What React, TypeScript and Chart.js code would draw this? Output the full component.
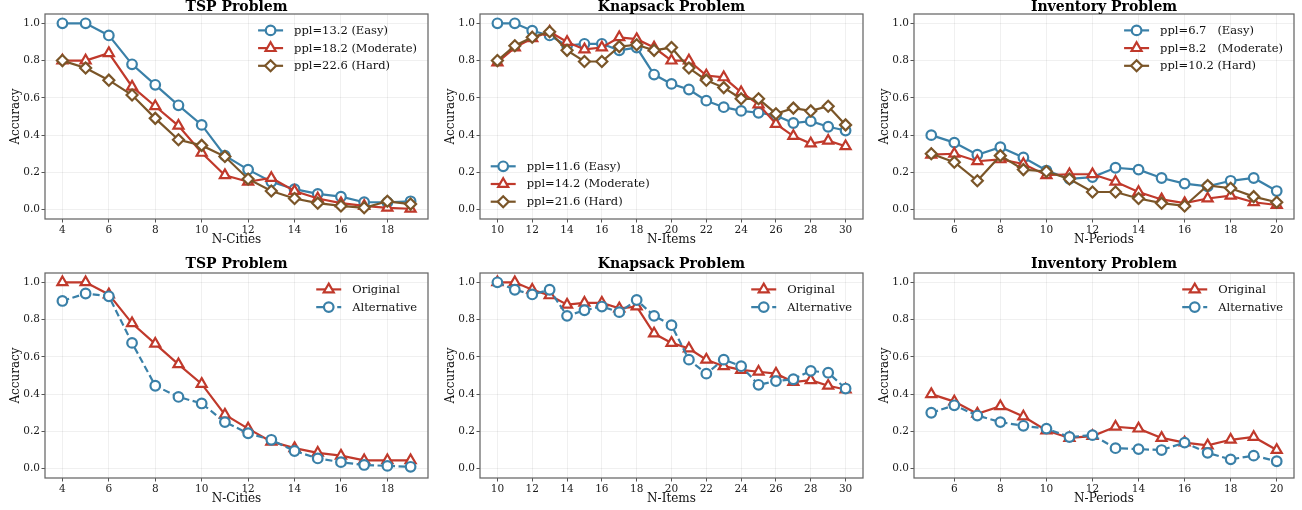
import React, { useEffect, useRef } from 'react';
import { Chart, registerables } from 'chart.js';

Chart.register(...registerables);
Chart.defaults.font.family = '"DejaVu Serif", serif';

const BLUE = '#3a80a8';
const RED = '#c0392b';
const BROWN = '#7a5528';

// ---------- data ----------
const tspCities = [4, 5, 6, 7, 8, 9, 10, 11, 12, 13, 14, 15, 16, 17, 18, 19];
const tspEasy = [1.0, 1.0, 0.935, 0.78, 0.67, 0.56, 0.455, 0.29, 0.215, 0.15, 0.11, 0.085, 0.07, 0.04, 0.04, 0.045];
const tspModerate = [0.8, 0.8, 0.84, 0.66, 0.555, 0.45, 0.305, 0.185, 0.15, 0.17, 0.1, 0.06, 0.035, 0.02, 0.01, 0.005];
const tspHard = [0.8, 0.76, 0.695, 0.615, 0.49, 0.375, 0.345, 0.285, 0.165, 0.1, 0.06, 0.035, 0.02, 0.01, 0.045, 0.03];
const tspOriginal = [1.0, 1.0, 0.935, 0.78, 0.67, 0.56, 0.455, 0.29, 0.215, 0.145, 0.11, 0.085, 0.07, 0.045, 0.045, 0.045];
const tspAlternative = [0.9, 0.94, 0.925, 0.675, 0.445, 0.385, 0.35, 0.25, 0.19, 0.155, 0.095, 0.055, 0.035, 0.02, 0.015, 0.01];

const knapItems = [10, 11, 12, 13, 14, 15, 16, 17, 18, 19, 20, 21, 22, 23, 24, 25, 26, 27, 28, 29, 30];
const knapEasy = [1.0, 1.0, 0.96, 0.935, 0.88, 0.89, 0.89, 0.855, 0.87, 0.725, 0.675, 0.645, 0.585, 0.55, 0.53, 0.52, 0.505, 0.465, 0.475, 0.445, 0.425];
const knapModerate = [0.79, 0.87, 0.92, 0.955, 0.9, 0.86, 0.87, 0.925, 0.915, 0.87, 0.8, 0.8, 0.72, 0.71, 0.63, 0.565, 0.46, 0.395, 0.355, 0.37, 0.34];
const knapHard = [0.8, 0.88, 0.925, 0.955, 0.855, 0.795, 0.795, 0.875, 0.885, 0.855, 0.87, 0.76, 0.695, 0.655, 0.595, 0.595, 0.515, 0.545, 0.53, 0.555, 0.455];
const knapOriginal = [1.0, 1.0, 0.96, 0.93, 0.88, 0.89, 0.89, 0.86, 0.87, 0.725, 0.675, 0.645, 0.585, 0.55, 0.53, 0.52, 0.51, 0.465, 0.475, 0.445, 0.425];
const knapAlternative = [1.0, 0.96, 0.935, 0.96, 0.82, 0.85, 0.87, 0.84, 0.905, 0.82, 0.77, 0.585, 0.51, 0.585, 0.55, 0.45, 0.47, 0.48, 0.525, 0.515, 0.43];

const invPeriods = [5, 6, 7, 8, 9, 10, 11, 12, 13, 14, 15, 16, 17, 18, 19, 20];
const invEasy = [0.4, 0.36, 0.295, 0.335, 0.28, 0.21, 0.165, 0.175, 0.225, 0.215, 0.17, 0.14, 0.125, 0.155, 0.17, 0.1];
const invModerate = [0.295, 0.3, 0.26, 0.27, 0.245, 0.185, 0.19, 0.19, 0.15, 0.095, 0.055, 0.035, 0.06, 0.075, 0.04, 0.025];
const invHard = [0.3, 0.255, 0.155, 0.29, 0.215, 0.205, 0.165, 0.095, 0.095, 0.06, 0.035, 0.02, 0.13, 0.115, 0.07, 0.04];
const invOriginal = [0.4, 0.36, 0.295, 0.335, 0.28, 0.205, 0.165, 0.175, 0.225, 0.215, 0.165, 0.14, 0.125, 0.155, 0.17, 0.1];
const invAlternative = [0.3, 0.34, 0.285, 0.25, 0.23, 0.215, 0.17, 0.18, 0.11, 0.105, 0.1, 0.14, 0.085, 0.05, 0.07, 0.04];

const yTickValues = [0.0, 0.2, 0.4, 0.6, 0.8, 1.0];
const tspTicks = [4, 6, 8, 10, 12, 14, 16, 18];
const knapTicks = [10, 12, 14, 16, 18, 20, 22, 24, 26, 28, 30];
const invTicks = [6, 8, 10, 12, 14, 16, 18, 20];

const tspLabels = ['ppl=13.2 (Easy)', 'ppl=18.2 (Moderate)', 'ppl=22.6 (Hard)'];
const knapLabels = ['ppl=11.6 (Easy)', 'ppl=14.2 (Moderate)', 'ppl=21.6 (Hard)'];
const invLabels = ['ppl=6.7   (Easy)', 'ppl=8.2   (Moderate)', 'ppl=10.2 (Hard)'];
const compareLabels = ['Original', 'Alternative'];

// ---------- layout ----------
type Series = { label: string; data: number[]; color: string; marker: string; dashed?: boolean };
type PanelCfg = {
  title: string;
  xLabel: string;
  xs: number[];
  xTicks: number[];
  xMin: number;
  xMax: number;
  series: Series[];
  legend: 'ur' | 'll';
  plotLeft: number;
  plotTop: number;
  plotW: number;
  rightPad: number;
  titleGap: number;
};

const PLOT_H = 205;
const LEFT_ROOM = 45;
const TOP_ROOM = 20;
const BOTTOM_ROOM = 31;
const CANVAS_H = TOP_ROOM + PLOT_H + BOTTOM_ROOM;

const diff3 = (labels: string[], a: number[], b: number[], c: number[]): Series[] => [
  { label: labels[0], data: a, color: BLUE, marker: 'circle' },
  { label: labels[1], data: b, color: RED, marker: 'triangle' },
  { label: labels[2], data: c, color: BROWN, marker: 'rectRot' },
];
const cmp2 = (a: number[], b: number[]): Series[] => [
  { label: compareLabels[0], data: a, color: RED, marker: 'triangle' },
  { label: compareLabels[1], data: b, color: BLUE, marker: 'circle', dashed: true },
];

const panels: PanelCfg[] = [
  { title: 'TSP Problem', xLabel: 'N-Cities', xs: tspCities, xTicks: tspTicks, xMin: 3.25, xMax: 19.75,
    series: diff3(tspLabels, tspEasy, tspModerate, tspHard), legend: 'ur',
    plotLeft: 45, plotTop: 14, plotW: 386, rightPad: 5, titleGap: 3 },
  { title: 'Knapsack Problem', xLabel: 'N-Items', xs: knapItems, xTicks: knapTicks, xMin: 9, xMax: 31,
    series: diff3(knapLabels, knapEasy, knapModerate, knapHard), legend: 'll',
    plotLeft: 480, plotTop: 14, plotW: 386, rightPad: 5, titleGap: 3 },
  { title: 'Inventory Problem', xLabel: 'N-Periods', xs: invPeriods, xTicks: invTicks, xMin: 4.25, xMax: 20.75,
    series: diff3(invLabels, invEasy, invModerate, invHard), legend: 'ur',
    plotLeft: 914, plotTop: 14, plotW: 384, rightPad: 4, titleGap: 3 },
  { title: 'TSP Problem', xLabel: 'N-Cities', xs: tspCities, xTicks: tspTicks, xMin: 3.25, xMax: 19.75,
    series: cmp2(tspOriginal, tspAlternative), legend: 'ur',
    plotLeft: 45, plotTop: 273, plotW: 386, rightPad: 5, titleGap: 5 },
  { title: 'Knapsack Problem', xLabel: 'N-Items', xs: knapItems, xTicks: knapTicks, xMin: 9, xMax: 31,
    series: cmp2(knapOriginal, knapAlternative), legend: 'ur',
    plotLeft: 480, plotTop: 273, plotW: 386, rightPad: 5, titleGap: 5 },
  { title: 'Inventory Problem', xLabel: 'N-Periods', xs: invPeriods, xTicks: invTicks, xMin: 4.25, xMax: 20.75,
    series: cmp2(invOriginal, invAlternative), legend: 'ur',
    plotLeft: 914, plotTop: 273, plotW: 384, rightPad: 4, titleGap: 5 },
];

const markerRadius = (m: string) => (m === 'circle' ? 4.8 : m === 'triangle' ? 5.8 : 5.5);

function drawMarker(ctx: CanvasRenderingContext2D, style: string, x: number, y: number, r: number) {
  ctx.beginPath();
  if (style === 'circle') {
    ctx.arc(x, y, r, 0, Math.PI * 2);
  } else if (style === 'triangle') {
    for (let k = 0; k < 3; k++) {
      const a = (k * 2 * Math.PI) / 3;
      const px = x + Math.sin(a) * r;
      const py = y - Math.cos(a) * r;
      if (k === 0) ctx.moveTo(px, py);
      else ctx.lineTo(px, py);
    }
  } else {
    ctx.moveTo(x, y - r);
    ctx.lineTo(x + r, y);
    ctx.lineTo(x, y + r);
    ctx.lineTo(x - r, y);
  }
  ctx.closePath();
  ctx.fill();
  ctx.stroke();
}

function Panel({ cfg }: { cfg: PanelCfg }) {
  const ref = useRef<HTMLCanvasElement>(null);
  const W = LEFT_ROOM + cfg.plotW + cfg.rightPad;

  useEffect(() => {
    const n = cfg.series.length;
    const decor = {
      id: 'decor',
      afterDatasetsDraw(chart: any) {
        const { ctx, chartArea } = chart;
        const { left, right, top, bottom } = chartArea;
        ctx.save();
        // frame
        ctx.strokeStyle = '#666666';
        ctx.lineWidth = 1.25;
        ctx.setLineDash([]);
        ctx.strokeRect(left, top, right - left, bottom - top);
        // legend
        ctx.font = '11.5px "DejaVu Serif"';
        ctx.textBaseline = 'middle';
        ctx.textAlign = 'left';
        const handle = 25;
        const gap = 11;
        const rowH = 17.7;
        const maxW = Math.max(...cfg.series.map((s) => ctx.measureText(s.label).width));
        let x0: number;
        let y0: number;
        if (cfg.legend === 'ur') {
          x0 = right - 11 - maxW - gap - handle;
          y0 = top + 16.4;
        } else {
          x0 = left + 10.7;
          y0 = bottom - 17.3 - rowH * (n - 1);
        }
        cfg.series.forEach((s, i) => {
          const y = y0 + i * rowH;
          ctx.strokeStyle = s.color;
          ctx.lineWidth = 2.2;
          ctx.setLineDash(s.dashed ? [7, 3.5] : []);
          ctx.beginPath();
          ctx.moveTo(x0, y);
          ctx.lineTo(x0 + handle, y);
          ctx.stroke();
          ctx.setLineDash([]);
          ctx.fillStyle = '#ffffff';
          drawMarker(ctx, s.marker, x0 + handle / 2, y, markerRadius(s.marker));
          ctx.fillStyle = '#111111';
          ctx.fillText(s.label, x0 + handle + gap, y + 0.5);
        });
        // title
        ctx.font = 'bold 14px "DejaVu Serif"';
        ctx.textAlign = 'center';
        ctx.textBaseline = 'alphabetic';
        ctx.fillStyle = '#000000';
        ctx.fillText(cfg.title, (left + right) / 2, top - cfg.titleGap);
        ctx.restore();
      },
    };

    const chart = new Chart(ref.current as HTMLCanvasElement, {
      type: 'line',
      data: {
        datasets: cfg.series.map((s, i) => ({
          label: s.label,
          data: cfg.xs.map((x, j) => ({ x, y: s.data[j] })),
          borderColor: s.color,
          backgroundColor: '#ffffff',
          borderWidth: 2.2,
          borderDash: s.dashed ? [7, 3.5] : [],
          pointStyle: s.marker as any,
          pointRadius: markerRadius(s.marker),
          pointHoverRadius: markerRadius(s.marker),
          pointBorderWidth: 2.2,
          pointBackgroundColor: '#ffffff',
          pointBorderColor: s.color,
          tension: 0,
          fill: false,
          order: n - i,
        })),
      },
      options: {
        animation: false,
        responsive: false,
        maintainAspectRatio: false,
        events: [],
        layout: { padding: { left: 0, right: cfg.rightPad, top: TOP_ROOM, bottom: 0 } },
        plugins: { legend: { display: false }, tooltip: { enabled: false }, title: { display: false } },
        scales: {
          x: {
            type: 'linear',
            min: cfg.xMin,
            max: cfg.xMax,
            afterBuildTicks: (scale: any) => {
              scale.ticks = cfg.xTicks.map((v) => ({ value: v }));
            },
            afterFit: (scale: any) => {
              scale.height = BOTTOM_ROOM;
            },
            ticks: {
              autoSkip: false,
              maxRotation: 0,
              padding: 1,
              color: '#1a1a1a',
              font: { size: 10.5 },
              callback: (v: any) => String(v),
            },
            grid: {
              color: 'rgba(0,0,0,0.075)',
              lineWidth: 0.8,
              tickLength: 3.5,
              tickColor: '#555555',
              tickWidth: 1,
            },
            border: { display: false },
            title: {
              display: true,
              text: cfg.xLabel,
              color: '#111111',
              font: { size: 12 },
              padding: { top: 0, bottom: 3 },
            },
          },
          y: {
            type: 'linear',
            min: -0.05,
            max: 1.05,
            afterBuildTicks: (scale: any) => {
              scale.ticks = yTickValues.map((v) => ({ value: v }));
            },
            afterFit: (scale: any) => {
              scale.width = LEFT_ROOM;
            },
            ticks: {
              padding: 1.5,
              color: '#1a1a1a',
              font: { size: 10.5 },
              callback: (v: any) => Number(v).toFixed(1),
            },
            grid: {
              color: 'rgba(0,0,0,0.075)',
              lineWidth: 0.8,
              tickLength: 3.5,
              tickColor: '#555555',
              tickWidth: 1,
            },
            border: { display: false },
            title: {
              display: true,
              text: 'Accuracy',
              color: '#111111',
              font: { size: 12 },
              padding: { top: 9, bottom: 0 },
            },
          },
        },
      },
      plugins: [decor],
    } as any);
    return () => chart.destroy();
  }, []);

  return (
    <canvas
      ref={ref}
      width={W}
      height={CANVAS_H}
      style={{
        position: 'absolute',
        left: cfg.plotLeft - LEFT_ROOM,
        top: cfg.plotTop - TOP_ROOM,
        width: W,
        height: CANVAS_H,
      }}
    />
  );
}

export default function App() {
  return (
    <div style={{ position: 'absolute', left: 0, top: 0, width: 1302, height: 510, background: '#ffffff', overflow: 'hidden' }}>
      {panels.map((p, i) => (
        <Panel key={i} cfg={p} />
      ))}
    </div>
  );
}
